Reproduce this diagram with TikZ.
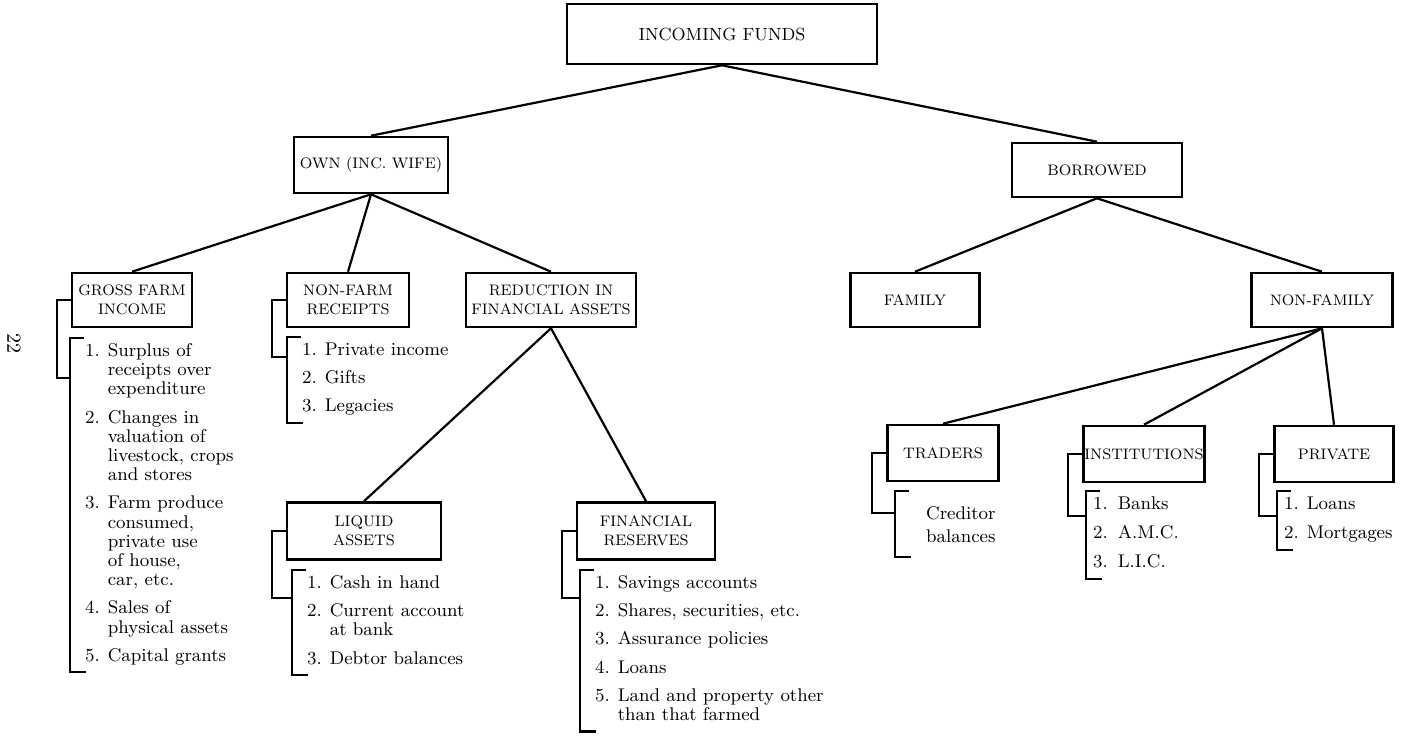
\documentclass[tikz,border=0pt]{standalone}
\usepackage{amsmath}
\begin{document}
\begin{tikzpicture}[x=0.5pt,y=-0.5pt,line width=1.1pt,
  box/.style={draw,line width=1.3pt,align=center,inner sep=0pt,minimum height=27pt,font=\fontsize{7.6}{9.5}\selectfont},
  items/.style={anchor=north west,inner xsep=7pt,inner ysep=2pt,align=left,font=\fontsize{9.2}{9.6}\selectfont}]
\useasboundingbox (0,0) rectangle (1405,740);
\node[box,minimum width=155pt,minimum height=30pt,font=\fontsize{8.8}{10}\selectfont] (inc) at (722,34) {INCOMING FUNDS};
\node[box,minimum width=77pt,minimum height=28pt] (own) at (371,165) {OWN (INC. WIFE)};
\node[box,minimum width=85pt] (bor) at (1097,170) {BORROWED};
\node[box,minimum width=60pt] (gfi) at (132,300) {GROSS FARM\\INCOME};
\node[box,minimum width=61pt] (nfr) at (348,300) {NON-FARM\\RECEIPTS};
\node[box,minimum width=85pt] (rfa) at (551,300) {REDUCTION IN\\FINANCIAL ASSETS};
\node[box,minimum width=64.5pt] (fam) at (915,300) {FAMILY};
\node[box,minimum width=70.5pt] (nfam) at (1322,300) {NON-FAMILY};
\node[box,minimum width=77pt,minimum height=28.5pt] (liq) at (364,531) {LIQUID\\ASSETS};
\node[box,minimum width=69pt,minimum height=28.5pt] (fin) at (646,531) {FINANCIAL\\RESERVES};
\node[box,minimum width=55.5pt,minimum height=28pt] (trd) at (943,453) {TRADERS};
\node[box,minimum width=60.5pt,minimum height=28pt] (ins) at (1144,454) {INSTITUTIONS};
\node[box,minimum width=59.5pt,minimum height=28pt] (prv) at (1334,454) {PRIVATE};
\node[rotate=-90,font=\fontsize{10}{12}\selectfont] (pg) at (14,343) {22};

\node[items] (gfl) at (70,338) {\begin{tabular}{@{}l@{\hspace{4pt}}l@{}}
1. & Surplus of\\ & receipts over\\ & expenditure\\[4.5pt]
2. & Changes in\\ & valuation of\\ & livestock, crops\\ & and stores\\[4.5pt]
3. & Farm produce\\ & consumed,\\ & private use\\ & of house,\\ & car, etc.\\[4.5pt]
4. & Sales of\\ & physical assets\\[4.5pt]
5. & Capital grants
\end{tabular}};
\node[items] (nfl) at (287,337) {\begin{tabular}{@{}l@{\hspace{4pt}}l@{}}
1. & Private income\\[4.5pt] 2. & Gifts\\[4.5pt] 3. & Legacies
\end{tabular}};
\node[items] (lql) at (292,570) {\begin{tabular}{@{}l@{\hspace{4pt}}l@{}}
1. & Cash in hand\\[4.5pt] 2. & Current account\\ & at bank\\[4.5pt] 3. & Debtor balances
\end{tabular}};
\node[items] (fnl) at (580,570) {\begin{tabular}{@{}l@{\hspace{4pt}}l@{}}
1. & Savings accounts\\[4.5pt] 2. & Shares, securities, etc.\\[4.5pt]
3. & Assurance policies\\[4.5pt] 4. & Loans\\[4.5pt]
5. & Land and property other\\ & than that farmed
\end{tabular}};
\node[items,inner xsep=15pt,inner ysep=7pt,font=\fontsize{9.2}{11.5}\selectfont] (trl) at (895,491) {Creditor\\balances};
\node[items,inner xsep=3pt] (inl) at (1086,491) {\begin{tabular}{@{}l@{\hspace{5pt}}l@{}}
1. & Banks\\[5pt] 2. & A.M.C.\\[5pt] 3. & L.I.C.
\end{tabular}};
\node[items,inner xsep=3pt] (prl) at (1277,491) {\begin{tabular}{@{}l@{\hspace{4pt}}l@{}}
1. & Loans\\[5pt] 2. & Mortgages
\end{tabular}};

\foreach \p/\c in {inc/own,inc/bor,own/gfi,own/nfr,own/rfa,bor/fam,bor/nfam,rfa/liq,rfa/fin,nfam/trd,nfam/ins,nfam/prv}
  \draw (\p.south) -- (\c.north);
\foreach \bx/\lst/\dp in {gfi/gfl/20,nfr/nfl/10,liq/lql/14,fin/fnl/14,trd/trl/11,ins/inl/12.5,prv/prl/12.5}{
  \draw (\bx.west) -- ++(-14,0) |- ([yshift=-\dp pt]\lst.north west);
  \draw ([xshift=7pt]\lst.north west) -- (\lst.north west) -- (\lst.south west) -- ([xshift=8pt]\lst.south west);
}
\end{tikzpicture}
\end{document}
